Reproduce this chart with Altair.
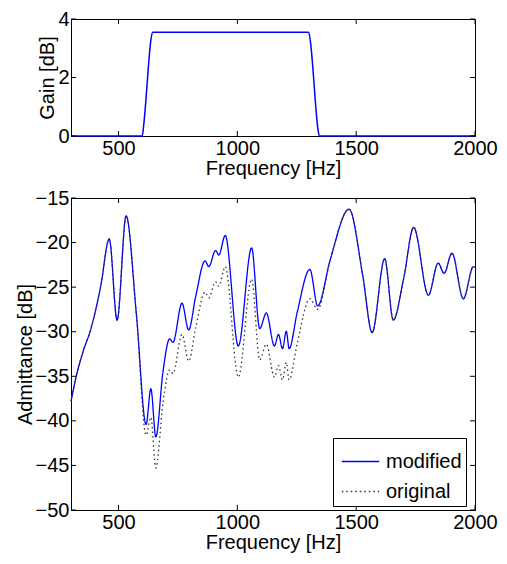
import altair as alt
import pandas as pd

# ---- data ----
gain_freq = [300, 600, 605, 615, 625, 635, 643, 1300, 1308, 1318, 1328, 1338, 1345, 2000]
gain_db = [0, 0, 0.3, 1.2, 2.3, 3.2, 3.55, 3.55, 3.2, 2.3, 1.2, 0.3, 0, 0]

adm_freq = [300, 322, 350, 384, 425, 461, 494, 532, 575, 616, 636, 657, 687, 715, 729,
            767, 795, 825, 864, 880, 908, 922, 949, 1004, 1060, 1094, 1122, 1156, 1173,
            1190, 1206, 1218, 1252, 1305, 1338, 1391, 1470, 1528, 1567, 1620, 1656, 1700,
            1742, 1804, 1845, 1870, 1903, 1951, 1993, 2000]
modified = [-37.8, -35.0, -32.3, -29.65, -24.9, -19.6, -28.7, -17.0, -28.0, -40.4, -36.4,
            -41.8, -34.5, -30.8, -31.2, -26.8, -29.8, -26.0, -22.05, -22.7, -20.9, -21.4,
            -19.2, -31.6, -20.6, -29.65, -27.9, -31.6, -30.3, -31.9, -29.95, -31.9, -27.8,
            -23.0, -27.1, -21.9, -16.25, -23.75, -30.1, -21.8, -28.7, -24.0, -18.3, -25.9,
            -22.3, -23.45, -21.2, -26.3, -22.7, -22.8]
original = [-37.8, -35.0, -32.3, -29.65, -24.9, -19.6, -28.7, -17.0, -28.0, -41.6, -39.6,
            -45.3, -38.0, -34.3, -34.7, -30.3, -33.3, -29.5, -25.55, -26.2, -24.4, -24.9,
            -22.7, -35.1, -24.1, -33.15, -31.4, -35.1, -33.8, -35.4, -33.45, -35.4, -31.3,
            -26.3, -27.5, -21.9, -16.25, -23.75, -30.1, -21.8, -28.7, -24.0, -18.3, -25.9,
            -22.3, -23.45, -21.2, -26.3, -22.7, -22.8]

x_ticks = [500, 1000, 1500, 2000]
gain_ticks = [0, 2, 4]
adm_ticks = [-50, -45, -40, -35, -30, -25, -20, -15]

FONT = "Liberation Sans"
FS = 20
W = 404
H1 = 117
H2 = 312
TL = 5
SPACING = 8

xscale = alt.Scale(domain=[300, 2000], nice=False, zero=False)


def tick_layers(yvals, yscale, h):
    xt = pd.DataFrame({"f": x_ticks})
    yt = pd.DataFrame({"v": yvals})
    xb = alt.Chart(xt).mark_rule(color="black", strokeWidth=1).encode(
        x=alt.X("f:Q", scale=xscale), y=alt.value(h - TL), y2=alt.value(h))
    xtop = alt.Chart(xt).mark_rule(color="black", strokeWidth=1).encode(
        x=alt.X("f:Q", scale=xscale), y=alt.value(0), y2=alt.value(TL))
    yl = alt.Chart(yt).mark_rule(color="black", strokeWidth=1).encode(
        y=alt.Y("v:Q", scale=yscale), x=alt.value(0), x2=alt.value(TL))
    yr = alt.Chart(yt).mark_rule(color="black", strokeWidth=1).encode(
        y=alt.Y("v:Q", scale=yscale), x=alt.value(W - TL), x2=alt.value(W))
    return [xb, xtop, yl, yr]


xaxis = alt.Axis(values=x_ticks, title="Frequency [Hz]", ticks=False, grid=False,
                 labelFlush=False, format="d")

# ---- top chart: gain ----
gdf = pd.DataFrame({"f": gain_freq, "g": gain_db})
gscale = alt.Scale(domain=[0, 4], nice=False)
gline = alt.Chart(gdf).mark_line(color="#0000ff", strokeWidth=1.5, interpolate="monotone").encode(
    x=alt.X("f:Q", scale=xscale, axis=xaxis),
    y=alt.Y("g:Q", scale=gscale,
            axis=alt.Axis(values=gain_ticks, title="Gain [dB]", ticks=False, grid=False)),
)
top = alt.layer(gline, *tick_layers(gain_ticks, gscale, H1)).properties(width=W, height=H1)

# ---- bottom chart: admittance ----
rows = []
for f, m, o in zip(adm_freq, modified, original):
    rows.append({"f": f, "a": m, "s": "modified"})
    rows.append({"f": f, "a": o, "s": "original"})
adf = pd.DataFrame(rows)
ascale = alt.Scale(domain=[-50, -15], nice=False)
series = ["modified", "original"]
BOTTOM_OFFSET = H1 + 63
legend = alt.Legend(title=None, orient="none", legendX=W - 142, legendY=BOTTOM_OFFSET + H2 - 73,
                    fillColor="white", strokeColor="black", padding=4,
                    labelFontSize=FS, labelFont=FONT, symbolType="stroke",
                    symbolSize=1400, symbolStrokeWidth=1.5, rowPadding=-3, labelOffset=6,
                    symbolOffset=4, cornerRadius=0)
aline = alt.Chart(adf).mark_line(interpolate="monotone", strokeWidth=1.3).encode(
    x=alt.X("f:Q", scale=xscale, axis=xaxis),
    y=alt.Y("a:Q", scale=ascale,
            axis=alt.Axis(values=adm_ticks, title="Admittance [dB]", ticks=False, grid=False)),
    color=alt.Color("s:N", scale=alt.Scale(domain=series, range=["#0000ff", "#333333"]),
                    legend=legend, sort=series),
    strokeDash=alt.StrokeDash("s:N", scale=alt.Scale(domain=series, range=[[1, 0], [1.5, 3]]),
                              legend=legend, sort=series),
    order=alt.Order("f:Q"),
)
bottom = alt.layer(aline, *tick_layers(adm_ticks, ascale, H2)).properties(width=W, height=H2)

chart = alt.vconcat(top, bottom, spacing=SPACING).properties(
    padding={"left": 6, "top": 0, "right": 0, "bottom": 0}
).configure_view(stroke="black", strokeWidth=1).configure_axis(
    labelFont=FONT, labelFontSize=FS, labelColor="black", titleFont=FONT,
    titleFontSize=FS, titleFontWeight="normal", titleColor="black",
    domainColor="black", labelPadding=2, titlePadding=0,
).configure_legend(labelFont=FONT)

chart.save("out.html", embed_options={"renderer": "svg", "actions": False})
